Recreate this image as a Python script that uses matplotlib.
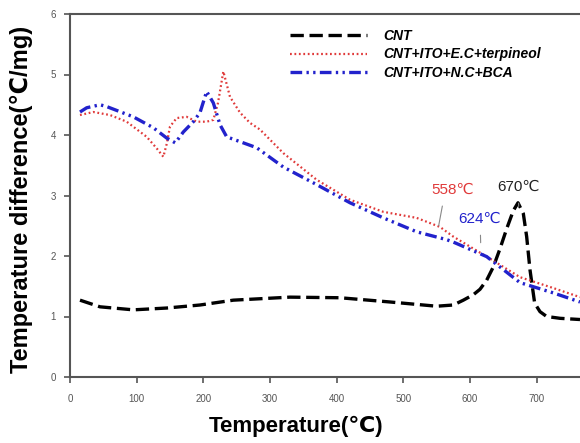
import matplotlib
matplotlib.use('Agg')
import matplotlib.pyplot as plt

plt.rcParams['font.family'] = ['Liberation Sans', 'DejaVu Sans']

# CNT
cnt_x = [15, 45, 95, 145, 195, 245, 330, 405, 480, 550, 575, 590, 605, 615, 625, 635,
         645, 655, 665, 672, 680, 685, 690, 697, 705, 715, 735, 765]
cnt_y = [1.27, 1.16, 1.11, 1.14, 1.19, 1.27, 1.32, 1.31, 1.24, 1.17, 1.19, 1.27, 1.36, 1.45,
         1.6, 1.82, 2.12, 2.45, 2.75, 2.88, 2.7, 2.32, 1.77, 1.22, 1.08, 1.0, 0.97, 0.95]

# CNT+ITO+E.C+terpineol
ec_x = [15, 35, 60, 85, 115, 130, 140, 145, 150, 160, 175, 190, 205, 215, 222, 230, 240,
        255, 270, 285, 320, 370, 420, 470, 520, 555, 575, 625, 675, 725, 765]
ec_y = [4.33, 4.38, 4.33, 4.22, 3.97, 3.78, 3.64, 3.85, 4.14, 4.28, 4.3, 4.22, 4.22, 4.25,
        4.53, 5.05, 4.63, 4.37, 4.2, 4.09, 3.7, 3.26, 2.93, 2.73, 2.63, 2.48, 2.32, 1.99,
        1.65, 1.47, 1.32]

# CNT+ITO+N.C+BCA
nc_x = [15, 25, 45, 55, 95, 125, 145, 158, 170, 185, 195, 205, 215, 225, 235, 260, 280,
        320, 370, 420, 470, 520, 565, 575, 625, 675, 725, 765]
nc_y = [4.38, 4.45, 4.5, 4.47, 4.3, 4.12, 3.95, 3.87, 4.05, 4.22, 4.37, 4.72, 4.53, 4.17,
        3.97, 3.87, 3.79, 3.47, 3.18, 2.88, 2.63, 2.4, 2.27, 2.23, 1.99, 1.56, 1.39, 1.24]

labels = ['CNT', 'CNT+ITO+E.C+terpineol', 'CNT+ITO+N.C+BCA']

fig = plt.figure(figsize=(5.8, 4.43), dpi=100)
ax = fig.add_axes([70 / 580, 1 - 377 / 443, 510 / 580, 363 / 443])

ax.plot(cnt_x, cnt_y, color='black', lw=2.4, dashes=(4, 1.7), label=labels[0])
ax.plot(ec_x, ec_y, color='#e03a3a', lw=1.6, dashes=(0.8, 1.2), label=labels[1])
ax.plot(nc_x, nc_y, color='#2222cc', lw=2.4, dashes=(3.5, 1.3, 0.7, 1.3, 0.7, 1.3),
        label=labels[2])

ax.set_xlim(0, 765)
ax.set_ylim(0, 6)
ax.set_xticks(range(0, 800, 100))
ax.set_yticks(range(0, 7))
for s in ['left', 'bottom', 'top']:
    ax.spines[s].set_color('#555555')
    ax.spines[s].set_linewidth(1.5)
ax.spines['right'].set_visible(False)
ax.tick_params(direction='out', length=4, width=1.2, color='#555555',
               labelsize=7, labelcolor='#555555')
ax.tick_params(axis='x', pad=8)
ax.tick_params(axis='y', pad=6)

ax.set_xlabel('Temperature(℃)', fontsize=16, fontweight='bold')
ax.set_ylabel('Temperature difference(℃/mg)', fontsize=17, fontweight='bold')
ax.xaxis.set_label_coords(0.443, -0.108)
ax.yaxis.set_label_coords(-0.072, 0.49)

ax.annotate('558℃', xy=(553, 2.5), xytext=(574, 3.1), color='#e03a3a', fontsize=11,
            ha='center', va='center',
            arrowprops=dict(arrowstyle='-', color='#888888', lw=0.8, shrinkA=5, shrinkB=0,
                            relpos=(0.3, 0)))
ax.annotate('670℃', xy=(673, 2.82), xytext=(673, 3.15), color='#222222', fontsize=11,
            ha='center', va='center',
            arrowprops=dict(arrowstyle='-', color='#888888', lw=0.8, shrinkA=5, shrinkB=0))
ax.annotate('624℃', xy=(616, 2.22), xytext=(615, 2.62), color='#2222cc', fontsize=11,
            ha='center', va='center',
            arrowprops=dict(arrowstyle='-', color='#888888', lw=0.8, shrinkA=5, shrinkB=0))

ax.legend(loc='upper left', bbox_to_anchor=(0.431, 0.958), frameon=False, borderpad=0,
          borderaxespad=0, handlelength=5.55, handletextpad=1.15, labelspacing=0.3,
          prop=dict(size=10, weight='bold', style='italic'))

plt.savefig('out.png', dpi=100)
